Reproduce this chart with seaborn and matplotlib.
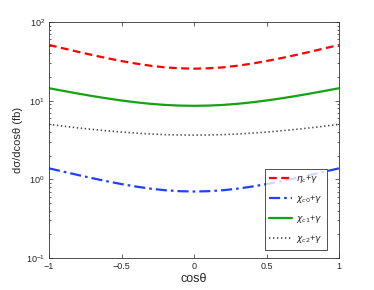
import numpy as np
import pandas as pd
import matplotlib
matplotlib.use('Agg')
import matplotlib.pyplot as plt
import matplotlib.ticker as mticker
import seaborn as sns

# cos(theta) sample points and values (fb)
cos_theta = [-1.0, -0.9, -0.8, -0.7, -0.6, -0.5, -0.4, -0.3, -0.2, -0.1, 0.0,
             0.1, 0.2, 0.3, 0.4, 0.5, 0.6, 0.7, 0.8, 0.9, 1.0]
eta_c = [51.0, 46.2, 41.8, 38.0, 34.7, 31.9, 29.6, 27.8, 26.5, 25.8, 25.5,
         25.8, 26.5, 27.8, 29.6, 31.9, 34.7, 38.0, 41.8, 46.2, 51.0]
chi_c0 = [1.38, 1.251, 1.135, 1.033, 0.945, 0.87, 0.809, 0.761, 0.727, 0.707, 0.70,
          0.707, 0.727, 0.761, 0.809, 0.87, 0.945, 1.033, 1.135, 1.251, 1.38]
chi_c1 = [14.4, 13.30, 12.31, 11.44, 10.69, 10.05, 9.53, 9.12, 8.83, 8.66, 8.6,
          8.66, 8.83, 9.12, 9.53, 10.05, 10.69, 11.44, 12.31, 13.30, 14.4]
chi_c2 = [5.0, 4.74, 4.51, 4.31, 4.14, 3.99, 3.87, 3.77, 3.70, 3.66, 3.65,
          3.66, 3.70, 3.77, 3.87, 3.99, 4.14, 4.31, 4.51, 4.74, 5.0]

labels = [r'$\eta_c$+$\gamma$', r'$\chi_{c0}$+$\gamma$',
          r'$\chi_{c1}$+$\gamma$', r'$\chi_{c2}$+$\gamma$']
series = [eta_c, chi_c0, chi_c1, chi_c2]
colors = ['#ff0000', '#2040ff', '#13a313', '#444444']
styles = [(0, (3.5, 2.0)), (0, (5, 1.8, 1.2, 1.8)), '-', (0, (0.8, 1.6))]
widths = [1.6, 1.6, 1.6, 1.2]

df = pd.concat([
    pd.DataFrame({'cos': cos_theta, 'val': vals, 'proc': lab})
    for vals, lab in zip(series, labels)
])

sns.set_style('ticks')
plt.rcParams['font.family'] = ['Liberation Sans', 'DejaVu Sans']

fig = plt.figure(figsize=(3.74, 2.90), dpi=100)
ax = fig.add_axes([49 / 374, 1 - 258 / 290, 290 / 374, 236 / 290])

for lab, col, ls, lw in zip(labels, colors, styles, widths):
    sub = df[df['proc'] == lab]
    sns.lineplot(data=sub, x='cos', y='val', ax=ax, color=col, label=lab,
                 linewidth=lw)
    ax.lines[-1].set_linestyle(ls)

ax.set_yscale('log')
ax.set_xlim(-1, 1)
ax.set_ylim(0.1, 100)
ax.yaxis.set_minor_locator(mticker.LogLocator(base=10, subs=np.arange(2, 10)))
ax.yaxis.set_minor_formatter(mticker.NullFormatter())
ax.set_xticks([-1, -0.5, 0, 0.5, 1])
ax.set_xticklabels(['\u22121', '\u22120.5', '0', '0.5', '1'])
ax.set_xlabel('cos\u03b8', fontsize=9, labelpad=1)
ax.set_ylabel('d\u03c3/dcos\u03b8 (fb)', fontsize=8, labelpad=2)

ax.tick_params(which='both', direction='in', top=True, right=True,
               labelsize=6.5, pad=3)
ax.tick_params(which='major', length=3, width=0.5)
ax.tick_params(which='minor', length=1.6, width=0.5)
ax.tick_params(axis='x', which='minor', bottom=False, top=False)
for sp in ax.spines.values():
    sp.set_linewidth(0.6)
    sp.set_color('#333333')

leg = ax.legend(loc='lower right', fontsize=6.5, frameon=True, fancybox=False,
                handlelength=2.5, handletextpad=0.5, borderpad=0.5,
                labelspacing=0.9, bbox_to_anchor=(0.975, 0.015))
leg.get_frame().set_edgecolor('black')
leg.get_frame().set_linewidth(0.6)

fig.savefig('out.png', dpi=100)
